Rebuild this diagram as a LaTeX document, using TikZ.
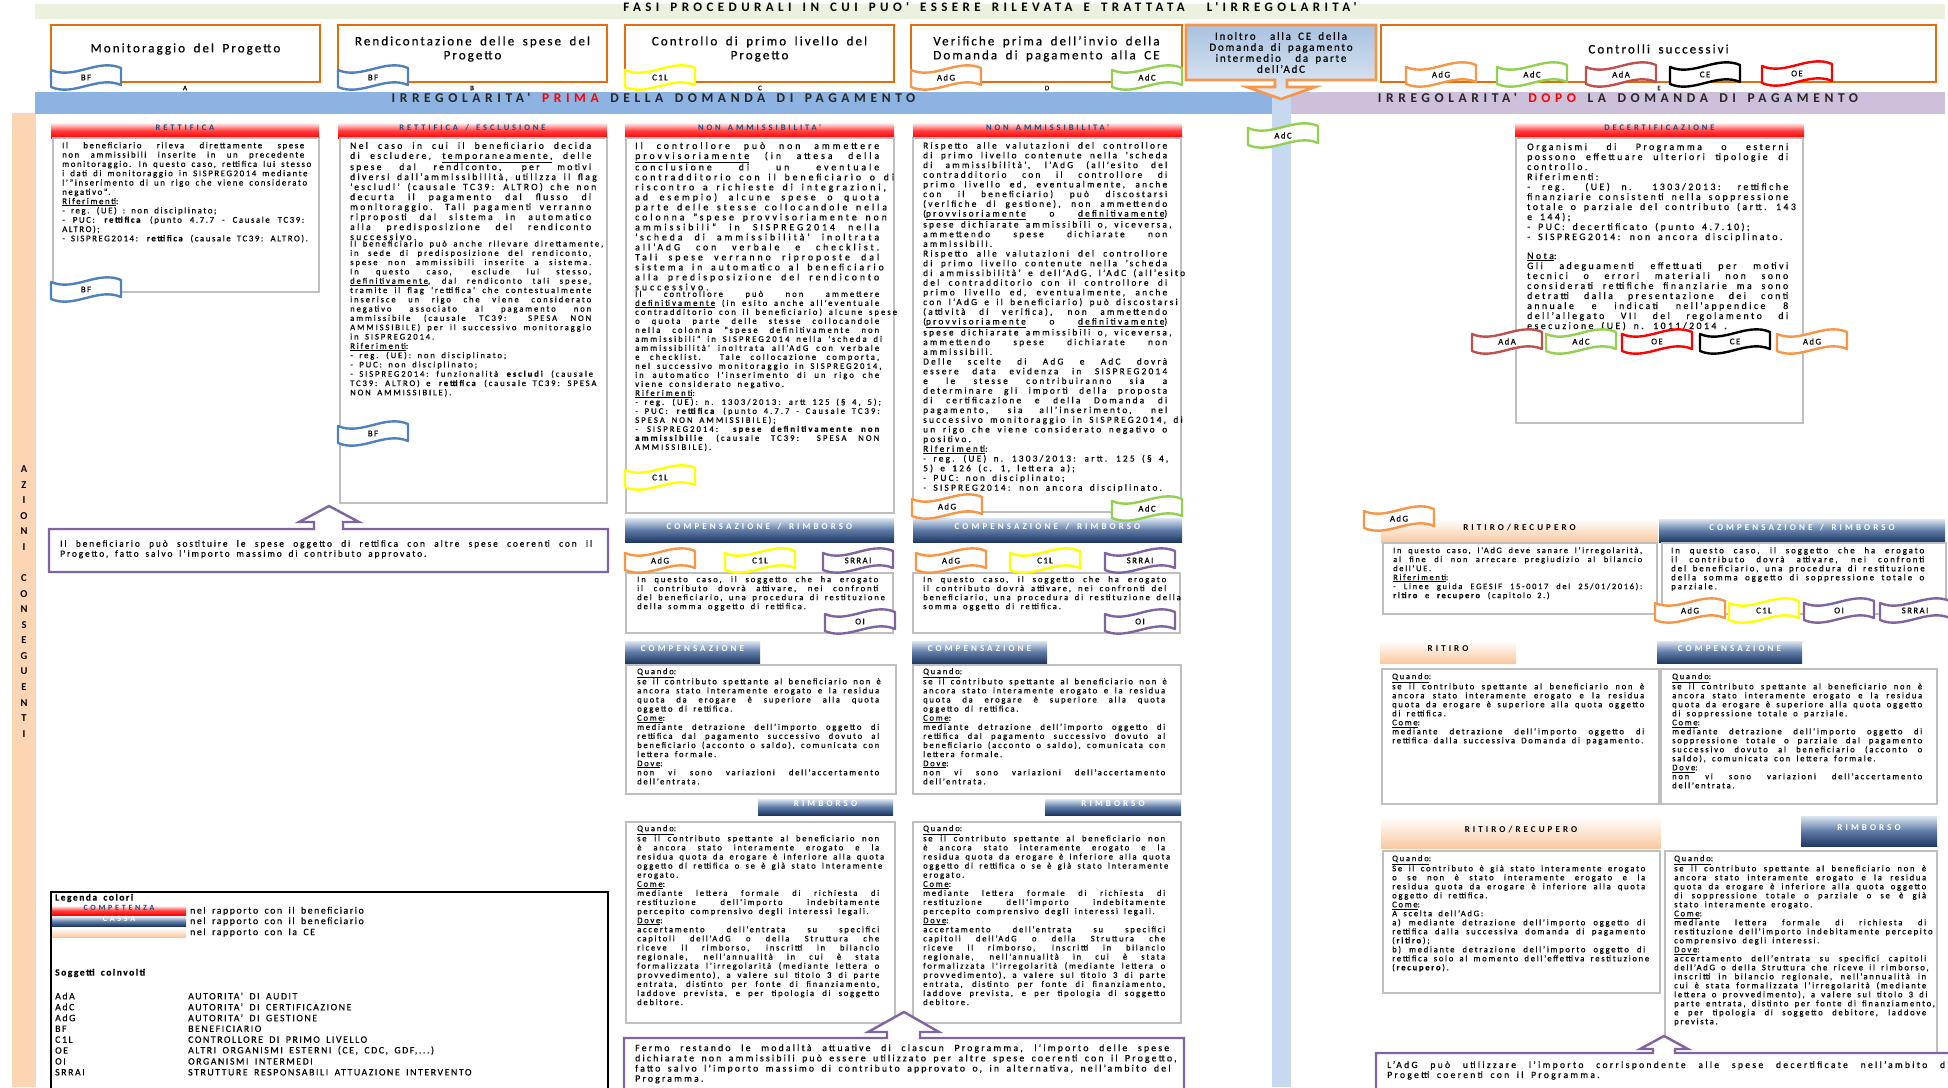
\documentclass[tikz,border=0pt]{standalone}
\usepackage{fontspec}
\setmainfont{Carlito}[LetterSpace=16, WordSpace={1.7,1.5,0}, FakeBold=0.35]
\newfontfamily\capsfont{Carlito}[LetterSpace=34, WordSpace=1.5]
\usepackage{tikz}
\usetikzlibrary{positioning,fit}

\definecolor{titlebg}{HTML}{EBF1DE}
\definecolor{boxorange}{HTML}{E46C0A}
\definecolor{bandblue}{HTML}{8DB3E2}
\definecolor{bandlilac}{HTML}{CCC0DA}
\definecolor{barblue}{HTML}{C6D9F1}
\definecolor{peach}{HTML}{FCD5B5}
\definecolor{peachdeep}{HTML}{FAC9A0}
\definecolor{hdblue}{HTML}{1F497D}
\definecolor{navy}{HTML}{1F3864}
\definecolor{midnavy}{HTML}{5E7BA6}
\definecolor{paleblue}{HTML}{DCE6F2}
\definecolor{darktxt}{HTML}{262626}
\definecolor{greyline}{HTML}{BFBFBF}
\definecolor{calltop}{HTML}{A9C2E0}
\definecolor{callbot}{HTML}{E3EBF5}
\definecolor{callorange}{HTML}{F79646}
\definecolor{flagblue}{HTML}{4F81BD}
\definecolor{flagyellow}{HTML}{FFFF00}
\definecolor{flagorange}{HTML}{F79646}
\definecolor{flaggreen}{HTML}{92D050}
\definecolor{flagada}{HTML}{C0504D}
\definecolor{flagred}{HTML}{FF0000}
\definecolor{flagpurple}{HTML}{8064A2}

\tolerance=10000
\emergencystretch=3em
\hyphenpenalty=10000
\exhyphenpenalty=10000

% wavy label: name, colour, left, top, text
\newcommand{\flag}[5]{%
  \filldraw[draw=#2, fill=white, line width=2.4pt, line join=round]
    (#3,#4+5) .. controls (#3+23,#4+15) and (#3+47,#4-7) .. (#3+70,#4+3)
    -- (#3+70,#4+20) .. controls (#3+47,#4+10) and (#3+23,#4+32) .. (#3,#4+22) -- cycle;
  \node[flaglabel] (#1) at (#3+35,#4+12.5) {#5};
}

\begin{document}
\begin{tikzpicture}[x=1pt, y=-1pt,
    topbox/.style={draw=boxorange, line width=2.2pt, fill=white, inner sep=0pt, align=center, font={\fontsize{13}{14}\selectfont}},
    band/.style={inner sep=0pt, text=darktxt, font={\capsfont\bfseries\fontsize{13.5}{15}\selectfont}},
    redhead/.style={inner sep=0pt, top color=red!6, bottom color=red, middle color=red!75, text=hdblue, font={\capsfont\bfseries\fontsize{8.5}{10}\selectfont}},
    bluehead/.style={inner sep=0pt, top color=paleblue, bottom color=navy, middle color=midnavy, text=white, font={\capsfont\bfseries\fontsize{9}{10}\selectfont}},
    peachhead/.style={inner sep=0pt, top color=white, bottom color=peachdeep, font={\capsfont\bfseries\fontsize{9}{10}\selectfont}},
    bodybox/.style={draw=greyline, line width=1.1pt, fill=white, inner sep=0pt},
    txt/.style={anchor=north west, inner sep=0pt, align=justify, text width=#1},
    fnt/.style n args={3}{font={\addfontfeature{LetterSpace=#3}\fontsize{#1}{#2}\selectfont}},
    callout/.style={draw=flagpurple, line width=2.4pt, fill=white},
    flaglabel/.style={inner sep=0pt, font={\fontsize{8.8}{10}\selectfont}},
    phase/.style={inner sep=0pt, font={\fontsize{7}{8}\selectfont}},
    vlet/.style={inner sep=0pt, font={\capsfont\bfseries\fontsize{10.5}{12}\selectfont}},
    legtxt/.style={anchor=west, inner sep=0pt, font={\fontsize{9.8}{10}\selectfont}}
  ]
  \useasboundingbox (0,0) rectangle (1948,1087);

  % title and bands
  \node[fill=titlebg, inner sep=0pt, fit={(35,4) (1945,19)}, font={\capsfont\bfseries\fontsize{13}{14}\selectfont}] (title)
    {FASI PROCEDURALI IN CUI PUO' ESSERE RILEVATA E TRATTATA~~L'IRREGOLARITA'};
  \fill[peach] (12,113) rectangle (36,1087);
  \fill[barblue] (1272,92) rectangle (1291,1087);
  \node[band, fill=bandblue, fit={(35,92) (1272,114)}] (prima) {IRREGOLARITA' \textcolor{red}{PRIMA} DELLA DOMANDA DI PAGAMENTO};
  \node[band, fill=bandlilac, fit={(1291,92) (1945,114)}] (dopo) {IRREGOLARITA' \textcolor{red}{DOPO} LA DOMANDA DI PAGAMENTO};

  \foreach \ch [count=\i] in {A,Z,I,O,N,I}
    \node[vlet] (az\i) at (24,469+15.6*\i-15.6) {\ch};
  \foreach \ch [count=\i] in {C,O,N,S,E,G,U,E,N,T,I}
    \node[vlet] (co\i) at (24,578+15.6*\i-15.6) {\ch};

  % phases
  \node[topbox, fit={(51,25) (320,82)}] (mon) {Monitoraggio del Progetto};
  \node[topbox, fit={(338,25) (607,82)}] (rend) {Rendicontazione delle spese del\\Progetto};
  \node[topbox, fit={(625,25) (894,82)}] (ctrl) {Controllo di primo livello del\\Progetto};
  \node[topbox, fit={(911,25) (1182,82)}] (verif) {Verifiche prima dell'invio della\\Domanda di pagamento alla CE};
  \node[topbox, fit={(1381,25) (1936,82)}] (succ) {Controlli successivi};
  \foreach \l/\x in {A/185, B/472, C/760, D/1047, E/1659}
    \node[phase] (ph\l) at (\x,88) {\l};

  \path[draw=callorange, line width=2.6pt, top color=calltop, bottom color=callbot]
    (1186,25) -- (1376,25) -- (1376,80) -- (1287,80) -- (1287,87) -- (1315,87) -- (1281,99)
    -- (1247,87) -- (1275,87) -- (1275,80) -- (1186,80) -- cycle;
  \node[align=center, inner sep=0pt, font={\fontsize{11}{11}\selectfont}] (inoltro) at (1281,52.5)
    {Inoltro~ alla CE della\\Domanda di pagamento\\intermedio~ da parte\\dell'AdC};

  % competenza
  \node[redhead, fit={(51,123) (319,138)}] (hrett) {RETTIFICA};
  \node[redhead, fit={(338,123) (607,138)}] (hresc) {RETTIFICA / ESCLUSIONE};
  \node[redhead, fit={(625,123) (894,138)}] (hnam1) {NON AMMISSIBILITA'};
  \node[redhead, fit={(913,123) (1182,138)}] (hnam2) {NON AMMISSIBILITA'};
  \node[redhead, fit={(1515,123) (1804,138)}] (hdec) {DECERTIFICAZIONE};

  \node[bodybox, fit={(53,138) (319,292)}] (rett) {};
  \node[bodybox, fit={(340,138) (607,503)}] (resc) {};
  \node[bodybox, fit={(626,138) (894,513)}] (nam1) {};
  \node[bodybox, fit={(913,138) (1181,512)}] (nam2) {};
  \node[bodybox, fit={(1516,138) (1803,423)}] (dec) {};

  \node[txt=242, fnt={8.8}{9.3}{18}] (trett) at (62,142) {Il beneficiario rileva direttamente spese non ammissibili inserite in un precedente monitoraggio. In questo caso, rettifica lui stesso i dati di monitoraggio in SISPREG2014 mediante l'"inserimento di un rigo che viene considerato negativo".\\
    \underline{Riferimenti}:\\
    - reg. (UE) : non disciplinato;\\
    - PUC: \textbf{rettifica} (punto 4.7.7 - Causale TC39: ALTRO);\\
    - SISPREG2014: \textbf{rettifica} (causale TC39: ALTRO).};

  \node[txt=241, fnt={9.6}{10}{24}] (tresc) at (350,142) {Nel caso in cui il beneficiario decida di escludere, \underline{temporaneamente,} delle spese dal rendiconto, per motivi diversi dall'ammissibilità, utilizza il flag 'escludi' (causale TC39: ALTRO) che non decurta il pagamento dal flusso di monitoraggio. Tali pagamenti verranno riproposti dal sistema in automatico alla predisposizione del rendiconto successivo.};
  \node[txt=241, fnt={8.6}{9.3}{22}] (tresc2) at (tresc.south west) {Il beneficiario può anche rilevare direttamente, in sede di predisposizione del rendiconto, spese non ammissibili inserite a sistema. In questo caso, esclude lui stesso, \underline{definitivamente}, dal rendiconto tali spese, tramite il flag 'rettifica' che contestualmente inserisce un rigo che viene considerato negativo associato al pagamento non ammissibile (causale TC39: SPESA NON AMMISSIBILE) per il successivo monitoraggio in SISPREG2014.\\
    \underline{Riferimenti}:\\
    - reg. (UE): non disciplinato;\\
    - PUC: non disciplinato;\\
    - SISPREG2014: funzionalità \textbf{escludi} (causale TC39: ALTRO) e \textbf{rettifica} (causale TC39: SPESA NON AMMISSIBILE).};

  \node[txt=244, fnt={9.8}{10}{30}] (tnam1) at (635,142) {Il controllore può non ammettere \underline{provvisoriamente} (in attesa della conclusione di un eventuale contradditorio con il beneficiario o di riscontro a richieste di integrazioni, ad esempio) alcune spese o quota parte delle stesse collocandole nella colonna "spese provvisoriamente non ammissibili" in SISPREG2014 nella 'scheda di ammissibilità' inoltrata all'AdG con verbale e checklist. Tali spese verranno riproposte dal sistema in automatico al beneficiario alla predisposizione del rendiconto successivo.};
  \node[txt=244, fnt={8.6}{9}{24}] (tnam1b) at (tnam1.south west) {Il controllore può non ammettere \underline{definitivamente} (in esito anche all'eventuale contradditorio con il beneficiario) alcune spese o quota parte delle stesse collocandole nella colonna "spese definitivamente non ammissibili" in SISPREG2014 nella 'scheda di ammissibilità' inoltrata all'AdG con verbale e checklist. Tale collocazione comporta, nel successivo monitoraggio in SISPREG2014, in automatico l'inserimento di un rigo che viene considerato negativo.\\
    \underline{Riferimenti}:\\
    - reg. (UE): n. 1303/2013: artt 125 (§ 4, 5);\\
    - PUC: \textbf{rettifica} (punto 4.7.7 - Causale TC39: SPESA NON AMMISSIBILE);\\
    - SISPREG2014: \textbf{spese definitivamente non ammissibilie} (causale TC39: SPESA NON AMMISSIBILE).};

  \node[txt=244, fnt={9.3}{9.7}{24}] (tnam2) at (923,142) {Rispetto alle valutazioni del controllore di primo livello contenute nella 'scheda di ammissibilità', l'AdG (all'esito del contradditorio con il controllore di primo livello ed, eventualmente, anche con il beneficiario) può discostarsi (verifiche di gestione), non ammettendo (\underline{provvisoriamente} o \underline{definitivamente}) spese dichiarate ammissibili o, viceversa, ammettendo spese dichiarate non ammissibili.\\
    Rispetto alle valutazioni del controllore di primo livello contenute nella 'scheda di ammissibilità' e dell'AdG, l'AdC (all'esito del contradditorio con il controllore di primo livello ed, eventualmente, anche con l'AdG e il beneficiario) può discostarsi (attività di verifica), non ammettendo (\underline{provvisoriamente} o \underline{definitivamente}) spese dichiarate ammissibili o, viceversa, ammettendo spese dichiarate non ammissibili.\\
    Delle scelte di AdG e AdC dovrà essere data evidenza in SISPREG2014 e le stesse contribuiranno sia a determinare gli importi della proposta di certificazione e della Domanda di pagamento, sia all'inserimento, nel successivo monitoraggio in SISPREG2014, di un rigo che viene considerato negativo o positivo.\\
    \underline{Riferimenti}:\\
    - reg. (UE) n. 1303/2013: artt. 125 (§ 4, 5) e 126 (c. 1, lettera a);\\
    - PUC: non disciplinato;\\
    - SISPREG2014: non ancora disciplinato.};

  \node[txt=261, fnt={9.8}{10}{25}] (tdec) at (1527,143) {Organismi di Programma o esterni possono effettuare ulteriori tipologie di controllo.\\
    Riferimenti:\\
    - reg. (UE) n. 1303/2013: rettifiche finanziarie consistenti nella soppressione totale o parziale del contributo (artt. 143 e 144);\\
    - PUC: decertificato (punto 4.7.10);\\
    - SISPREG2014: non ancora disciplinato.\\[9pt]
    \underline{Nota}:\\
    Gli adeguamenti effettuati per motivi tecnici o errori materiali non sono considerati rettifiche finanziarie ma sono detratti dalla presentazione dei conti annuale e indicati nell'appendice 8 dell'allegato VII del regolamento di esecuzione (UE) n. 1011/2014 .};

  % cassa, prima della domanda
  \node[bluehead, fit={(625,518) (894,542)}] (hcr1) {COMPENSAZIONE / RIMBORSO};
  \node[bluehead, fit={(913,518) (1182,542)}] (hcr2) {COMPENSAZIONE / RIMBORSO};
  \node[bodybox, fit={(626,573) (893,633)}] (cr1) {};
  \node[bodybox, fit={(913,573) (1180,633)}] (cr2) {};
  \node[txt=241, fnt={8.6}{9}{22}] (tcr1) at (637,576) {In questo caso, il soggetto che ha erogato il contributo dovrà attivare, nei confronti del beneficiario, una procedura di restituzione della somma oggetto di rettifica.};
  \node[txt=243, fnt={8.6}{9}{22}] (tcr2) at (923,576) {In questo caso, il soggetto che ha erogato il contributo dovrà attivare, nei confronti del beneficiario, una procedura di restituzione della somma oggetto di rettifica.};

  \node[bluehead, fit={(625,641) (760,663)}] (hcomp1) {COMPENSAZIONE};
  \node[bluehead, fit={(912,641) (1047,663)}] (hcomp2) {COMPENSAZIONE};
  \node[bodybox, fit={(626,665) (896,794)}] (comp1) {};
  \node[bodybox, fit={(913,665) (1181,794)}] (comp2) {};
  \foreach \n/\x in {1/637, 2/923}
    \node[txt=242, fnt={8.6}{9.1}{20}] (tcomp\n) at (\x,668) {\underline{Quando}:\\
      se il contributo spettante al beneficiario non è ancora stato interamente erogato e la residua quota da erogare è superiore alla quota oggetto di rettifica.\\
      \underline{Come}:\\
      mediante detrazione dell'importo oggetto di rettifica dal pagamento successivo dovuto al beneficiario (acconto o saldo), comunicata con lettera formale.\\
      \underline{Dove}:\\
      non vi sono variazioni dell'accertamento dell'entrata.};

  \node[bluehead, fit={(758,799) (893,815)}] (hrimb1) {RIMBORSO};
  \node[bluehead, fit={(1045,799) (1181,815)}] (hrimb2) {RIMBORSO};
  \node[bodybox, fit={(626,822) (895,1023)}] (rimb1) {};
  \node[bodybox, fit={(913,822) (1181,1023)}] (rimb2) {};
  \foreach \n/\x in {1/637, 2/923}
    \node[txt=242, fnt={8.6}{9.1}{20}] (trimb\n) at (\x,825) {\underline{Quando}:\\
      se il contributo spettante al beneficiario non è ancora stato interamente erogato e la residua quota da erogare è inferiore alla quota oggetto di rettifica o se è già stato interamente erogato.\\
      \underline{Come}:\\
      mediante lettera formale di richiesta di restituzione dell'importo indebitamente percepito comprensivo degli interessi legali.\\
      \underline{Dove}:\\
      accertamento dell’entrata su specifici capitoli dell'AdG o della Struttura che riceve il rimborso, inscritti in bilancio regionale, nell’annualità in cui è stata formalizzata l’irregolarità (mediante lettera o provvedimento), a valere sul titolo 3 di parte entrata, distinto per fonte di finanziamento, laddove prevista, e per tipologia di soggetto debitore.};

  % dopo la domanda
  \node[peachhead, fit={(1381,519) (1658,542)}] (hrr1) {RITIRO/RECUPERO};
  \node[bluehead, fit={(1659,519) (1945,542)}] (hcr3) {COMPENSAZIONE / RIMBORSO};
  \node[bodybox, fit={(1383,543) (1657,614)}] (rr1) {};
  \node[bodybox, fit={(1662,543) (1946,614)}] (cr3) {};
  \node[txt=249, fnt={8.4}{9}{20}] (trr1) at (1393,547) {In questo caso, l'AdG deve sanare l'irregolarità, al fine di non arrecare pregiudizio al bilancio dell'UE.\\
    \underline{Riferimenti}:\\
    - Linee guida EGESIF 15-0017 del 25/01/2016): \textbf{ritiro} e \textbf{recupero} (capitolo 2.)};
  \node[txt=253, fnt={8.8}{9}{22}] (tcr3) at (1671,547) {In questo caso, il soggetto che ha erogato il contributo dovrà attivare, nei confronti del beneficiario, una procedura di restituzione della somma oggetto di soppressione totale o parziale.};

  \node[peachhead, fit={(1380,641) (1516,663)}] (hrit) {RITIRO};
  \node[bluehead, fit={(1657,641) (1802,663)}] (hcomp3) {COMPENSAZIONE};
  \node[bodybox, fit={(1382,669) (1659,804)}] (rit) {};
  \node[bodybox, fit={(1661,669) (1937,804)}] (comp3) {};
  \node[txt=252, fnt={8.6}{9}{20}] (trit) at (1392,673) {\underline{Quando}:\\
    se il contributo spettante al beneficiario non è ancora stato interamente erogato e la residua quota da erogare è superiore alla quota oggetto di rettifica.\\
    \underline{Come}:\\
    mediante detrazione dell'importo oggetto di rettifica dalla successiva Domanda di pagamento.};
  \node[txt=250, fnt={8.6}{9}{20}] (tcomp3) at (1672,673) {\underline{Quando}:\\
    se il contributo spettante al beneficiario non è ancora stato interamente erogato e la residua quota da erogare è superiore alla quota oggetto di soppressione totale o parziale.\\
    \underline{Come}:\\
    mediante detrazione dell'importo oggetto di soppressione totale o parziale dal pagamento successivo dovuto al beneficiario (acconto o saldo), comunicata con lettera formale.\\
    \underline{Dove}:\\
    non vi sono variazioni dell'accertamento dell'entrata.};

  \node[peachhead, fit={(1381,817) (1661,848)}] (hrr2) {RITIRO/RECUPERO};
  \node[bluehead, fit={(1801,816) (1937,846)}] (hrimb3) {RIMBORSO};
  \node[bodybox, fit={(1383,851) (1660,993)}] (rr2) {};
  \node[bodybox, fit={(1665,851) (1937,1060)}] (rimb3) {};
  \node[txt=253, fnt={8.6}{9}{20}] (trr2) at (1392,855) {\underline{Quando}:\\
    Se il contributo è già stato interamente erogato o se non è stato interamente erogato e la residua quota da erogare è inferiore alla quota oggetto di rettifica.\\
    \underline{Come}:\\
    A scelta dell'AdG:\\
    a) mediante detrazione dell'importo oggetto di rettifica dalla successiva domanda di pagamento (\textbf{ritiro});\\
    b) mediante detrazione dell'importo oggetto di rettifica solo al momento dell'effettiva restituzione (\textbf{recupero}).};
  \node[txt=252, fnt={8.6}{9}{20}] (trimb3) at (1674,855) {\underline{Quando}:\\
    se il contributo spettante al beneficiario non è ancora stato interamente erogato e la residua quota da erogare è inferiore alla quota oggetto di soppressione totale o parziale o se è già stato interamente erogato.\\
    \underline{Come}:\\
    mediante lettera formale di richiesta di restituzione dell'importo indebitamente percepito comprensivo degli interessi.\\
    \underline{Dove}:\\
    accertamento dell’entrata su specifici capitoli dell'AdG o della Struttura che riceve il rimborso, inscritti in bilancio regionale, nell’annualità in cui è stata formalizzata l’irregolarità (mediante lettera o provvedimento), a valere sul titolo 3 di parte entrata, distinto per fonte di finanziamento, e per tipologia di soggetto debitore, laddove prevista.};

  % notes with arrows
  \path[callout] (49,529) -- (314,529) -- (314,522) -- (299,522) -- (329,506) -- (359,522) -- (343,522)
    -- (343,529) -- (608,529) -- (608,572) -- (49,572) -- cycle;
  \node[txt=532, fnt={9.4}{10}{20}] (nota1) at (60,540) {Il beneficiario può sostituire le spese oggetto di rettifica con altre spese coerenti con il Progetto, fatto salvo l'importo massimo di contributo approvato.};
  \path[callout] (624,1038) -- (887,1038) -- (887,1032) -- (868,1032) -- (904,1012) -- (939,1032) -- (920,1032)
    -- (920,1038) -- (1184,1038) -- (1184,1095) -- (624,1095) -- cycle;
  \node[txt=534, fnt={9.8}{10.2}{22}] (nota2) at (635,1044) {Fermo restando le modalità attuative di ciascun Programma, l'importo delle spese dichiarate non ammissibili può essere utilizzato per altre spese coerenti con il Progetto, fatto salvo l'importo massimo di contributo approvato o, in alternativa, nell'ambito del Programma.};
  \path[callout] (1376,1053) -- (1653,1053) -- (1653,1049) -- (1640,1049) -- (1664,1036) -- (1688,1049) -- (1675,1049)
    -- (1675,1053) -- (1960,1053) -- (1960,1095) -- (1376,1095) -- cycle;
  \node[txt=600, fnt={9.6}{10}{24}] (nota3) at (1387,1061) {L'AdG può utilizzare l'importo corrispondente alle spese decertificate nell'ambito di altri\linebreak Progetti coerenti con il Programma.};

  % legenda
  \node[draw=black, line width=2.5pt, fill=white, inner sep=0pt, fit={(51,892) (608,1095)}] (legenda) {};
  \node[legtxt, font={\bfseries\fontsize{9.5}{10}\selectfont}] (legtit) at (55,898) {Legenda colori};
  \node[redhead, fit={(52,906) (186,915)}, font={\capsfont\bfseries\fontsize{8}{9}\selectfont}] (lcomp) {COMPETENZA};
  \node[bluehead, fit={(52,917) (186,926)}, font={\capsfont\bfseries\fontsize{8}{9}\selectfont}] (lcassa) {CASSA};
  \node[peachhead, fit={(52,928) (186,937)}] (lce) {};
  \node[legtxt] (lt1) at (190,911) {nel rapporto con il beneficiario};
  \node[legtxt] (lt2) at (190,921.5) {nel rapporto con il beneficiario};
  \node[legtxt] (lt3) at (190,932.5) {nel rapporto con la CE};
  \node[legtxt, font={\bfseries\fontsize{9.5}{10}\selectfont}] (sogg) at (55,973) {Soggetti coinvolti};
  \foreach \k/\v [count=\i] in {AdA/AUTORITA' DI AUDIT, AdC/AUTORITA' DI CERTIFICAZIONE, AdG/AUTORITA' DI GESTIONE,
      BF/BENEFICIARIO, C1L/CONTROLLORE DI PRIMO LIVELLO, OE/{ALTRI ORGANISMI ESTERNI (CE, CDC, GDF,...)},
      OI/ORGANISMI INTERMEDI, SRRAI/STRUTTURE RESPONSABILI ATTUAZIONE INTERVENTO} {
    \node[legtxt] (sk\i) at (55,996+10.9*\i-10.9) {\k};
    \node[legtxt] (sv\i) at (188,996+10.9*\i-10.9) {\v};
  }

  % soggetti
  \foreach \t/\c/\x/\y [count=\i] in {BF/flagblue/51/65, BF/flagblue/338/65, C1L/flagyellow/625/65,
      AdG/flagorange/911/65, AdC/flaggreen/1112/65, AdG/flagorange/1406/62, AdC/flaggreen/1497/62,
      AdA/flagada/1586/62, CE/black/1670/62, OE/flagred/1762/61, AdC/flaggreen/1248/123,
      BF/flagblue/51/277, BF/flagblue/338/421, C1L/flagyellow/625/465, AdG/flagorange/912/494,
      AdC/flaggreen/1112/496, AdG/flagorange/625/548, C1L/flagyellow/725/548, SRRAI/flagpurple/823/548,
      OI/flagpurple/825/609, AdG/flagorange/916/548, C1L/flagyellow/1010/548, SRRAI/flagpurple/1105/548,
      OI/flagpurple/1105/609, AdA/flagada/1472/329, AdC/flaggreen/1546/329, OE/flagred/1622/329,
      CE/black/1700/329, AdG/flagorange/1777/329, AdG/flagorange/1364/506, AdG/flagorange/1655/598,
      C1L/flagyellow/1729/598, OI/flagpurple/1804/598, SRRAI/flagpurple/1880/598}
    \flag{fl\i}{\c}{\x}{\y}{\t};
\end{tikzpicture}
\end{document}
